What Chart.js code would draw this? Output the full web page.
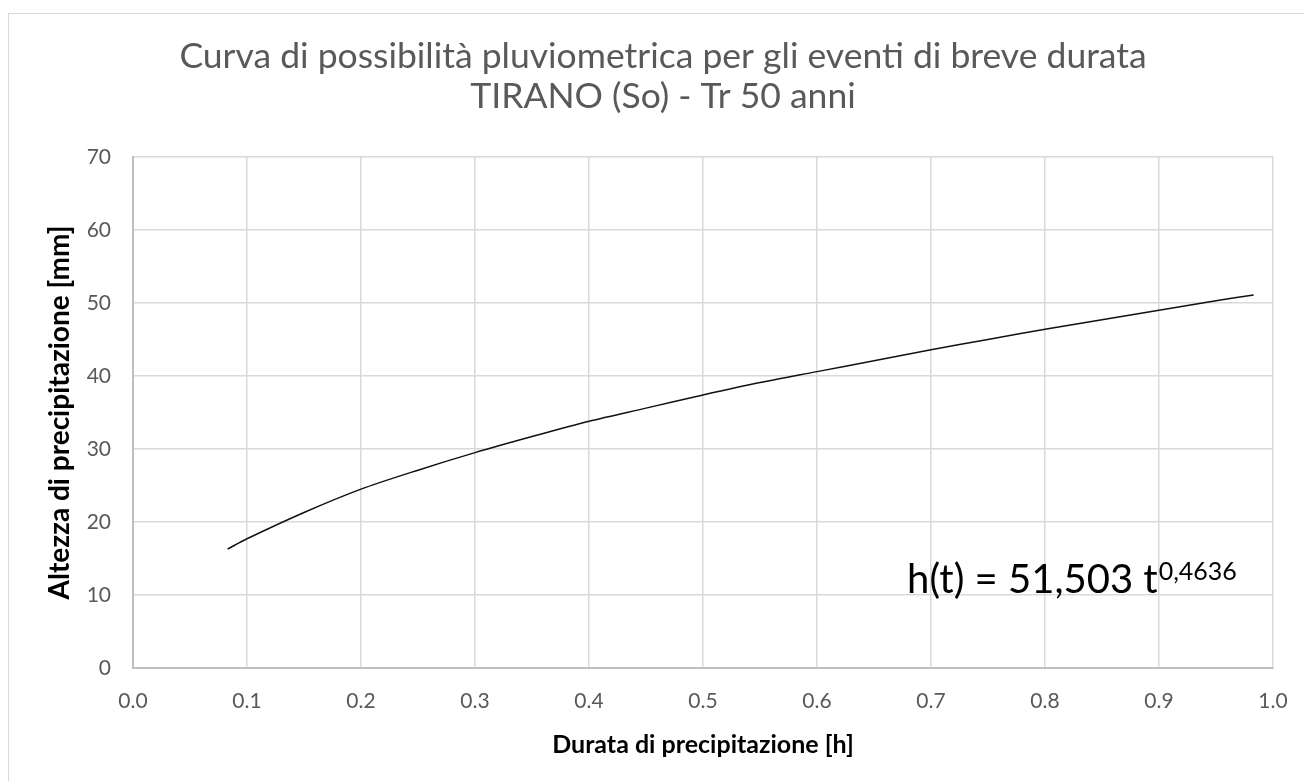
<!DOCTYPE html>
<html>
<head>
<meta charset="utf-8">
<script src="https://cdn.jsdelivr.net/npm/chart.js@4"></script>
<style>
  html, body { margin: 0; padding: 0; background: #fff; }
  #wrap { width: 1304px; height: 781px; position: relative; }
</style>
</head>
<body>
<div id="wrap"><canvas id="rainChart" width="1304" height="781"></canvas></div>
<script>
// durata [h] e altezza [mm]
const durations = [0.083, 0.1, 0.15, 0.2, 0.25, 0.3, 0.35, 0.4, 0.45, 0.5, 0.55, 0.6, 0.65, 0.7, 0.75, 0.8, 0.85, 0.9, 0.95, 0.983];
const heights = [16.3, 17.7, 21.3, 24.5, 27.1, 29.5, 31.7, 33.8, 35.6, 37.4, 39.1, 40.6, 42.1, 43.6, 45.0, 46.4, 47.7, 49.0, 50.3, 51.1];

const titleLines = ['Curva di possibilità pluviometrica per gli eventi di breve durata', 'TIRANO (So) - Tr 50 anni'];
const xTitle = 'Durata di precipitazione [h]';
const yTitle = 'Altezza di precipitazione [mm]';
const eqMain = 'h(t) = 51,503 t';
const eqExp = '0,4636';

const FONT = 'Lato, "Open Sans", sans-serif';

// cornice esterna, titolo su due righe ed equazione della curva
const extras = {
  id: 'extras',
  beforeDraw(chart) {
    const ctx = chart.ctx;
    ctx.save();
    ctx.fillStyle = '#fff';
    ctx.fillRect(0, 0, chart.width, chart.height);
    ctx.strokeStyle = '#d9d9d9';
    ctx.lineWidth = 1;
    ctx.strokeRect(8.5, 13.5, 1400, 900);

    ctx.fillStyle = '#595959';
    ctx.font = '35.5px ' + FONT;
    ctx.textAlign = 'center';
    ctx.textBaseline = 'middle';
    titleLines.forEach((line, i) => ctx.fillText(line, 663, 57 + i * 40));
    ctx.restore();
  },
  afterDatasetsDraw(chart) {
    const ctx = chart.ctx;
    const x = chart.scales.x.getPixelForValue(0.679);
    const y = chart.scales.y.getPixelForValue(10.27);
    ctx.save();
    ctx.fillStyle = '#000';
    ctx.textBaseline = 'alphabetic';
    ctx.font = '40px ' + FONT;
    ctx.fillText(eqMain, x, y);
    const w = ctx.measureText(eqMain).width;
    ctx.font = '25px ' + FONT;
    ctx.fillText(eqExp, x + w + 1, y - 13);
    ctx.restore();
  }
};

const dataPoints = durations.map((d, i) => ({ x: d, y: heights[i] }));

new Chart(document.getElementById('rainChart'), {
  type: 'scatter',
  data: {
    datasets: [{
      data: dataPoints,
      showLine: true,
      borderColor: '#111',
      borderWidth: 1.5,
      pointRadius: 0,
      tension: 0.3,
      fill: false
    }]
  },
  options: {
    responsive: false,
    animation: false,
    layout: { padding: { left: 0, right: 31, top: 157, bottom: 0 } },
    plugins: {
      legend: { display: false },
      tooltip: { enabled: false },
      title: { display: false }
    },
    scales: {
      x: {
        type: 'linear',
        min: 0,
        max: 1,
        afterFit(scale) {
          scale.height = 113;
          scale.paddingLeft = 0;
          scale.paddingRight = 0;
        },
        ticks: {
          stepSize: 0.1,
          color: '#595959',
          padding: 21,
          font: { family: FONT, size: 21 },
          callback: v => v.toFixed(1)
        },
        grid: { color: '#d9d9d9', lineWidth: 1.5, drawTicks: false },
        border: { color: '#bfbfbf', width: 2 },
        title: {
          display: true,
          text: xTitle,
          color: '#000',
          font: { family: FONT, size: 25, weight: 'bold' },
          padding: { top: 0, bottom: 21 }
        }
      },
      y: {
        min: 0,
        max: 70,
        afterFit(scale) { scale.width = 133; },
        ticks: {
          stepSize: 10,
          color: '#595959',
          padding: 22,
          font: { family: FONT, size: 21 }
        },
        grid: { color: '#d9d9d9', lineWidth: 1.5, drawTicks: false },
        border: { color: '#bfbfbf', width: 2 },
        title: {
          display: true,
          text: yTitle,
          color: '#000',
          font: { family: FONT, size: 28, weight: 'bold' },
          padding: { top: 43 }
        }
      }
    }
  },
  plugins: [extras]
});
</script>
</body>
</html>
